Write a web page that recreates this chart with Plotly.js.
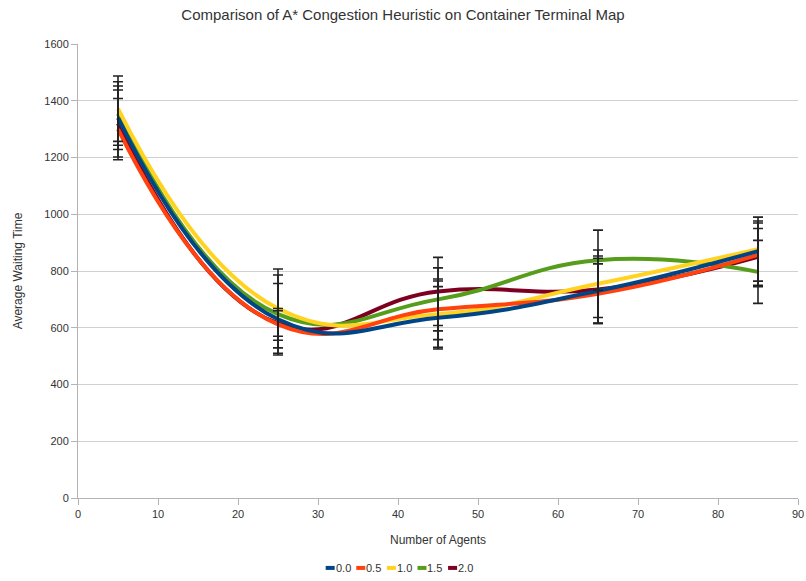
<!DOCTYPE html>
<html>
<head>
<meta charset="utf-8">
<script src="https://cdn.plot.ly/plotly-3.0.1.min.js"></script>
<style>
  html, body { margin: 0; padding: 0; background: #fff; }
  #chart { width: 806px; height: 581px; }
</style>
</head>
<body>
<div id="chart"></div>
<script>
// Number of agents on the terminal map
const agents = [5, 25, 45, 65, 85];

// Average waiting time per heuristic weight
const wait00 = [1340, 630, 635, 730, 870];
const wait05 = [1300, 612, 665, 720, 857];
const wait10 = [1372, 668, 648, 755, 877];
const wait15 = [1355, 648, 700, 838, 797];
const wait20 = [1320, 615, 728, 735, 850];

// Error (standard deviation) per heuristic weight
const err00 = [112, 126, 110, 115, 106];
const err05 = [108, 56, 107, 105, 112];
const err10 = [115, 139, 117, 119, 113];
const err15 = [112, 138, 111, 106, 111];
const err20 = [118, 45, 120, 118, 100];

const weightLabels = ['0.0', '0.5', '1.0', '1.5', '2.0'];
const colors = ['#004586', '#ff420e', '#ffd320', '#579d1c', '#7e0021'];

const series = [wait00, wait05, wait10, wait15, wait20];
const errors = [err00, err05, err10, err15, err20];

const traces = [];
// smoothed lines, last weight drawn first so 0.0 sits on top
for (let i = series.length - 1; i >= 0; i--) {
  traces.push({
    x: agents,
    y: series[i],
    name: weightLabels[i],
    type: 'scatter',
    mode: 'lines',
    line: { color: colors[i], width: 4, shape: 'spline', smoothing: 1.3 },
    hoverinfo: 'x+y+name'
  });
}
// error bars drawn above all lines
for (let i = series.length - 1; i >= 0; i--) {
  traces.push({
    x: agents,
    y: series[i],
    type: 'scatter',
    mode: 'markers',
    marker: { size: 0.1, color: 'rgba(0,0,0,0)' },
    showlegend: false,
    hoverinfo: 'skip',
    error_y: { type: 'data', array: errors[i], visible: true, color: '#222', thickness: 1.6, width: 5 }
  });
}

const font = 'Liberation Sans, Arial, sans-serif';

// compact legend row under the x-axis title: short colour bar + label
const legendY = -0.154;
const legendStart = 0.344;   // paper x of the first bar
const legendStep = 0.0425;   // paper width of one entry
const legendBar = 0.0125;    // paper width of a colour bar
const shapes = [];
const annotations = [];
weightLabels.forEach((label, i) => {
  const x0 = legendStart + i * legendStep;
  shapes.push({
    type: 'line', xref: 'paper', yref: 'paper',
    x0: x0, x1: x0 + legendBar, y0: legendY, y1: legendY,
    line: { color: colors[i], width: 4 }
  });
  annotations.push({
    xref: 'paper', yref: 'paper', x: x0 + legendBar, y: legendY,
    xanchor: 'left', yanchor: 'middle', showarrow: false, xshift: -1,
    text: label, font: { family: font, size: 11, color: '#333' }
  });
});

const layout = {
  width: 806,
  height: 581,
  margin: { l: 78, r: 8, t: 44, b: 83, autoexpand: false },
  paper_bgcolor: '#fff',
  plot_bgcolor: '#fff',
  font: { family: font, size: 11, color: '#333' },
  title: {
    text: 'Comparison of A* Congestion Heuristic on Container Terminal Map',
    font: { family: font, size: 15, color: '#333' },
    x: 0.5, xanchor: 'center', y: 0.975, yanchor: 'middle'
  },
  showlegend: false,
  shapes: shapes,
  annotations: annotations,
  xaxis: {
    range: [0, 90],
    dtick: 10,
    tick0: 0,
    showgrid: false,
    zeroline: false,
    showline: true,
    linecolor: '#b3b3b3',
    linewidth: 1,
    ticks: 'outside',
    ticklen: 6,
    tickcolor: '#b3b3b3',
    tickfont: { family: font, size: 11, color: '#333' },
    title: { text: 'Number of Agents', font: { family: font, size: 12, color: '#333' }, standoff: 16 },
    automargin: false,
    fixedrange: true
  },
  yaxis: {
    range: [0, 1600],
    dtick: 200,
    tick0: 0,
    showgrid: true,
    gridcolor: '#d0d0d0',
    gridwidth: 1,
    zeroline: false,
    showline: true,
    linecolor: '#b3b3b3',
    linewidth: 1,
    ticks: 'outside',
    ticklen: 6,
    tickcolor: '#b3b3b3',
    tickfont: { family: font, size: 11, color: '#333' },
    title: { text: 'Average Waiting Time', font: { family: font, size: 12, color: '#333' }, standoff: 19 },
    automargin: false,
    fixedrange: true
  }
};

Plotly.newPlot('chart', traces, layout, { displayModeBar: false, staticPlot: true });
</script>
</body>
</html>
